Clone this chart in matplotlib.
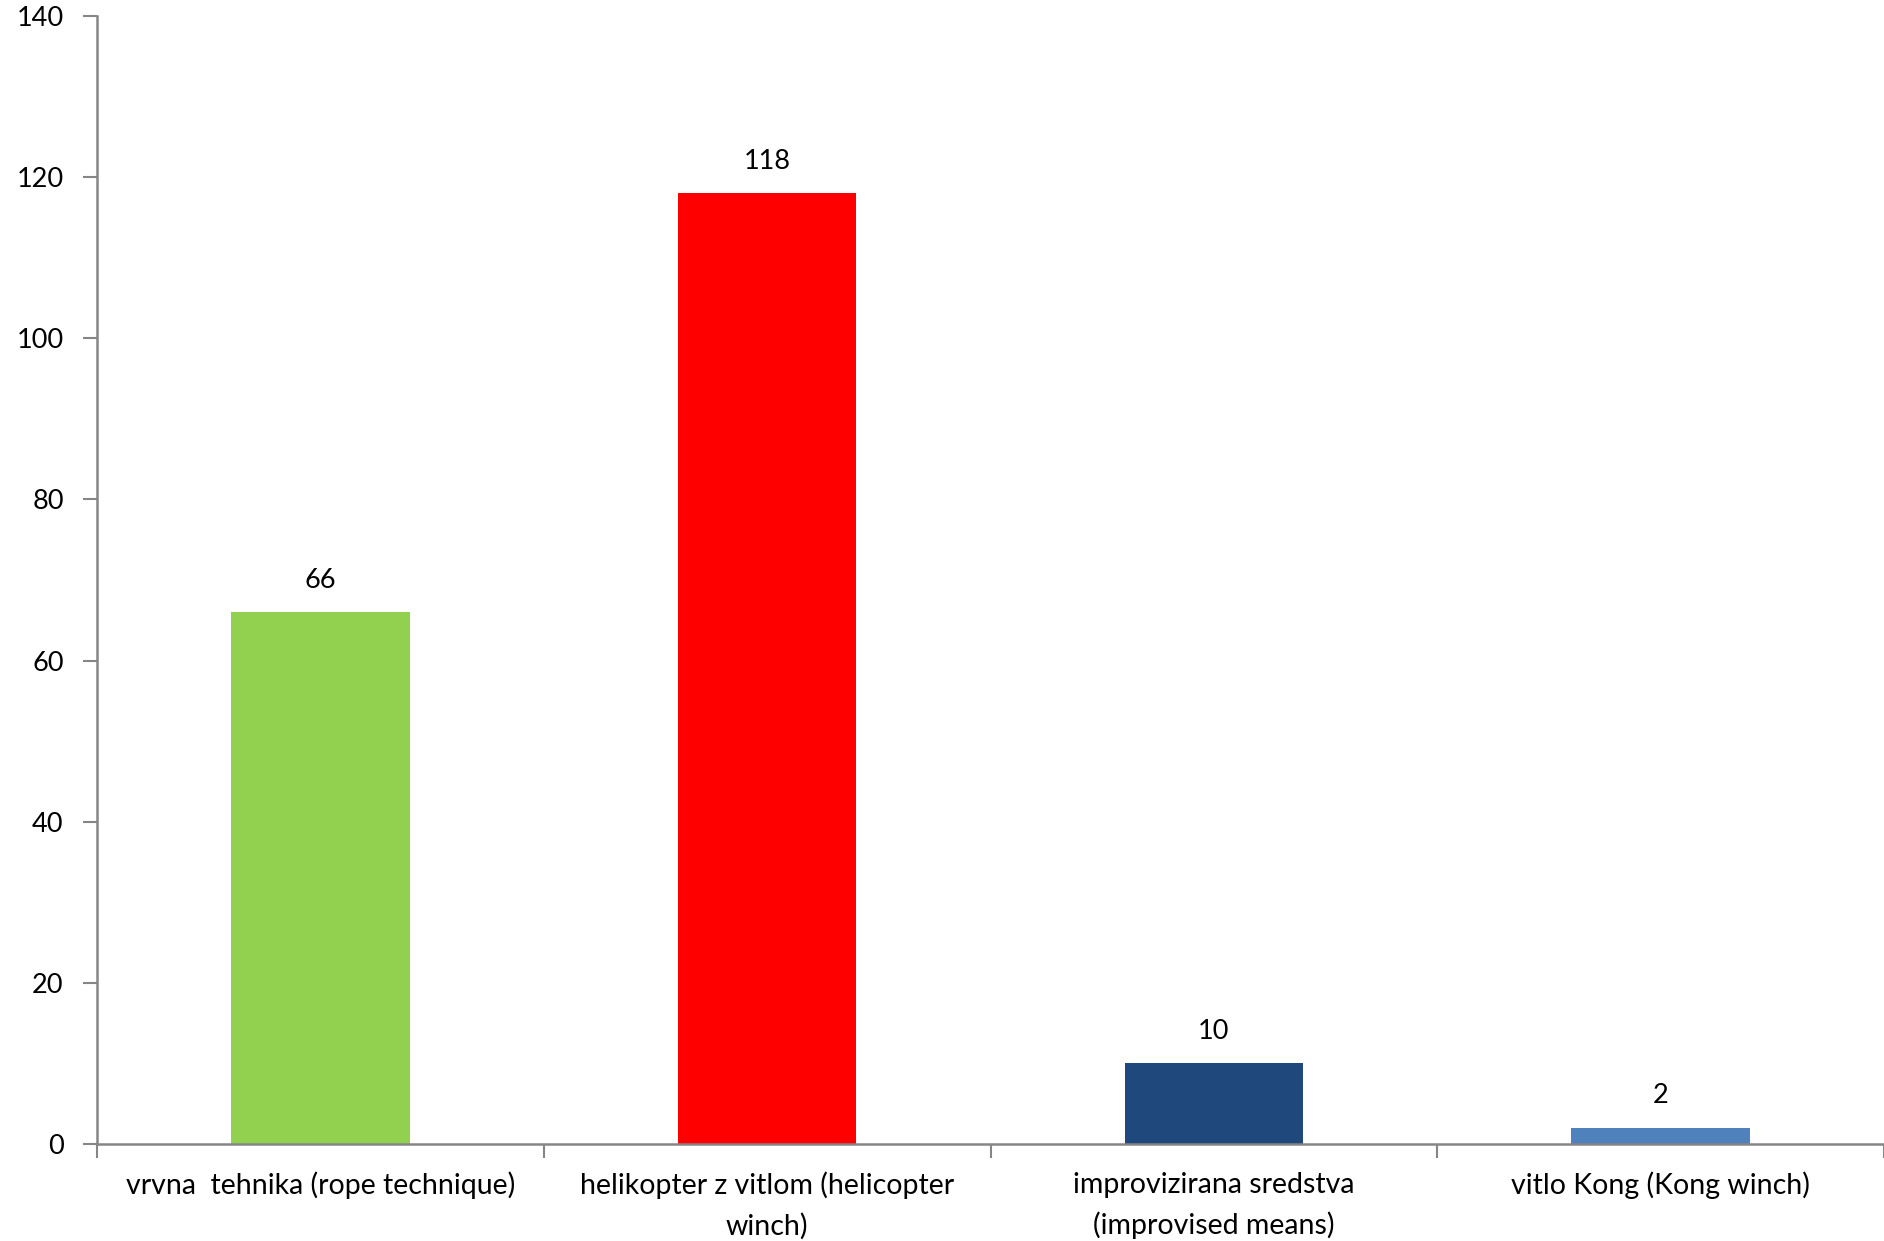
import matplotlib
matplotlib.use("Agg")
import matplotlib.pyplot as plt
import numpy as np

categories = ["vrvna  tehnika (rope technique)",
              "helikopter z vitlom (helicopter\nwinch)",
              "improvizirana sredstva\n(improvised means)",
              "vitlo Kong (Kong winch)"]
values = [66, 118, 10, 2]
colors = ["#92D050", "#FF0000", "#1F497D", "#4F81BD"]
yticks = [0, 20, 40, 60, 80, 100, 120, 140]

plt.rcParams['font.family'] = ['Lato', 'DejaVu Sans']
fig = plt.figure(figsize=(18.84, 12.41), dpi=100)
ax = fig.add_axes([97/1884, 1 - 1144/1241, 1 - 97/1884, (1144 - 16)/1241])

x = np.arange(len(values))
bars = ax.bar(x, values, width=0.4, color=colors, zorder=2)
for xi, v in zip(x, values):
    ax.annotate(str(v), (xi, v), xytext=(0, 14), textcoords="offset points",
                ha="center", va="bottom", fontsize=19.5)

ax.set_xlim(-0.5, len(values) - 0.5)
ax.set_ylim(0, 140)
ax.set_yticks(yticks)
ax.set_yticklabels([str(t) for t in yticks], fontsize=19.5)
ax.set_xticks(x)
ax.set_xticklabels(categories, fontsize=20.5, linespacing=1.6)
ax.set_xticks(np.arange(-0.5, len(values) + 0.5, 1), minor=True)
ax.tick_params(axis="x", which="major", length=0, pad=20)
ax.tick_params(axis="x", which="minor", length=10, width=1.5, color="#868686")
ax.tick_params(axis="y", length=10, width=1.5, color="#868686", pad=14)
for s in ["top", "right"]:
    ax.spines[s].set_visible(False)
for s in ["left", "bottom"]:
    ax.spines[s].set_color("#868686")
    ax.spines[s].set_linewidth(1.8)

fig.savefig("out.png", dpi=100)
